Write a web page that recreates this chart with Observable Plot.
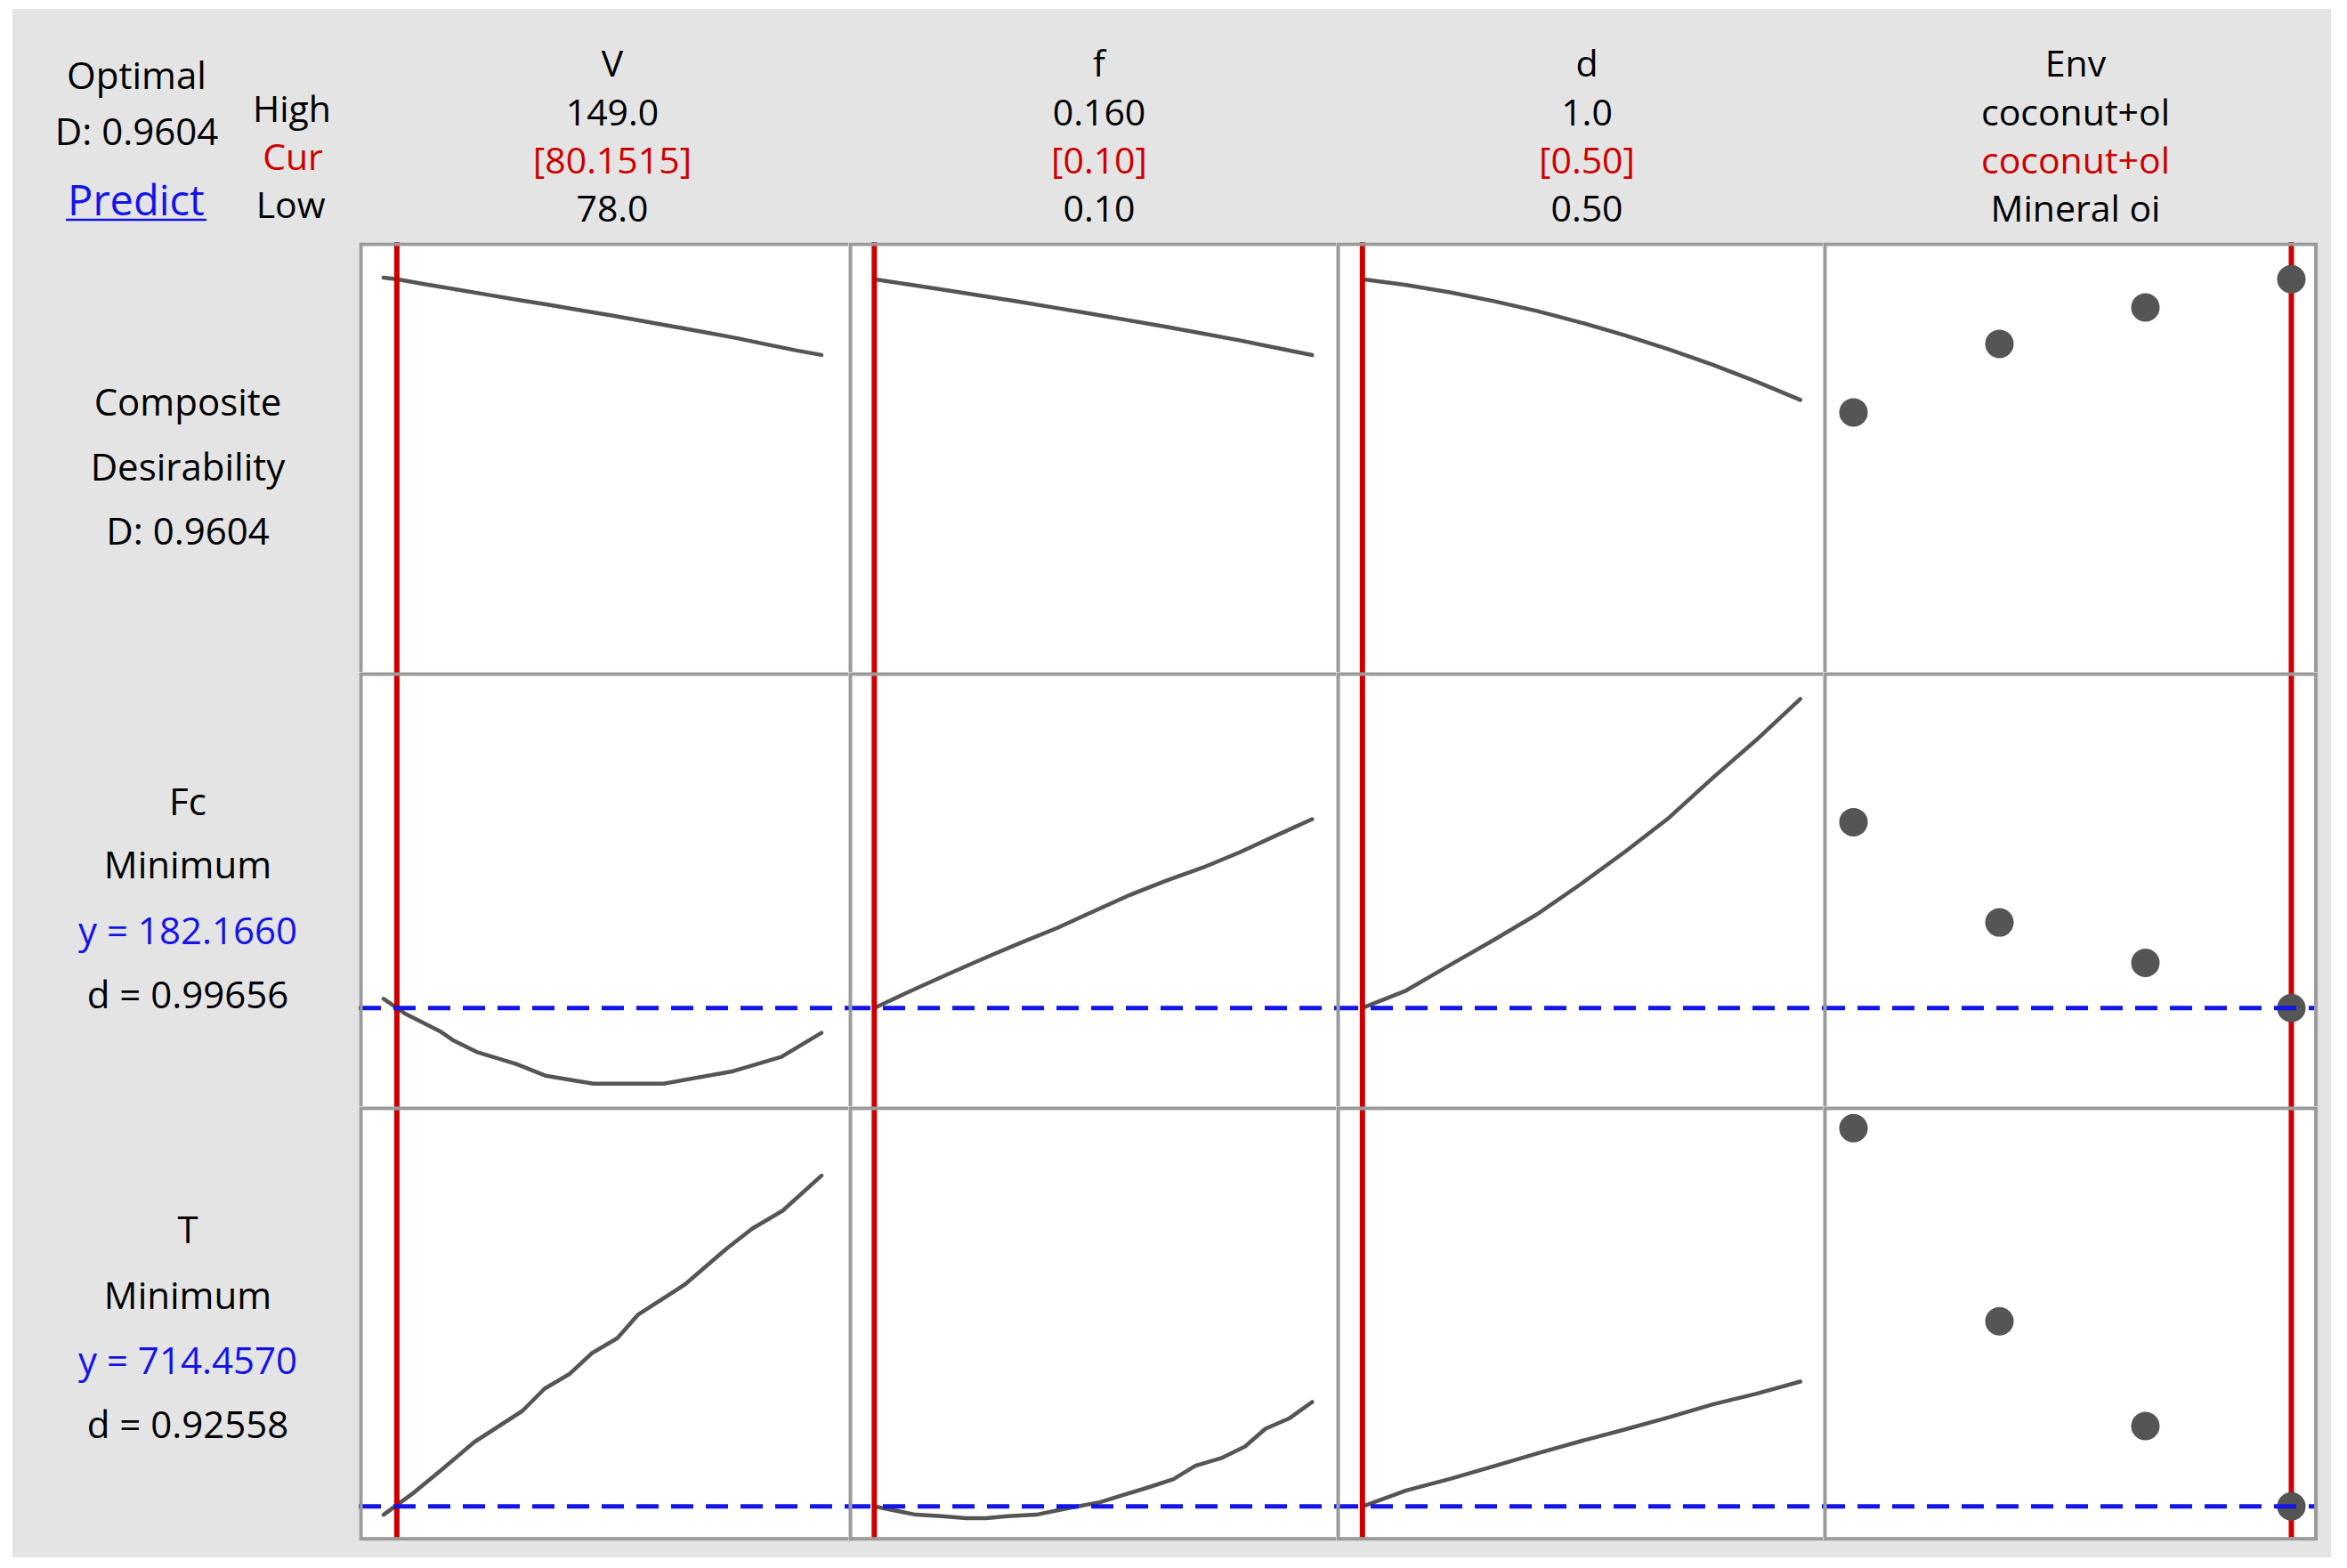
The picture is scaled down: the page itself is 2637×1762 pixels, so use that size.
<!DOCTYPE html>
<html>
<head>
<meta charset="utf-8">
<script src="https://cdn.jsdelivr.net/npm/d3@7"></script>
<script src="https://cdn.jsdelivr.net/npm/@observablehq/plot@0.6"></script>
<style>
  html, body { margin: 0; padding: 0; background: #ffffff; }
  #root { position: relative; width: 2637px; height: 1762px; overflow: hidden; }
  #bg { position: absolute; left: 14px; top: 10px; width: 2605px; height: 1740px; background: #e4e4e4; }
  .panel { position: absolute; }
</style>
</head>
<body>
<div id="root"><div id="bg"></div></div>
<script>
// ---------------- DATA ----------------
const factorNames = ["V", "f", "d", "Env"];
const highLabels  = ["149.0", "0.160", "1.0", "coconut+ol"];
const curLabels   = ["[80.1515]", "[0.10]", "[0.50]", "coconut+ol"];
const lowLabels   = ["78.0", "0.10", "0.50", "Mineral oi"];
const curSettings = [80.1515, 0.10, 0.50, "coconut+ol"];
const envLevels   = ["Mineral oi", "level 2", "level 3", "coconut+ol"];

const optimalD = "D: 0.9604";
const rowLabels = [
  ["Composite", "Desirability", "D: 0.9604"],
  ["Fc", "Minimum", "y = 182.1660", "d = 0.99656"],
  ["T", "Minimum", "y = 714.4570", "d = 0.92558"]
];
const optimumY = [null, 182.166, 714.457];

// Row 1: composite desirability
const V_D   = [78, 80.1515, 85, 90, 95, 100, 105, 110, 115, 120, 125, 130, 135, 140, 145, 149];
const D_V   = [0.9626, 0.9604, 0.9529, 0.9456, 0.9381, 0.9306, 0.9237, 0.9162, 0.9090, 0.9010, 0.8932, 0.8852, 0.8771, 0.8680, 0.8591, 0.8528];
const f_D   = [0.100, 0.105, 0.110, 0.115, 0.120, 0.125, 0.130, 0.135, 0.140, 0.145, 0.150, 0.155, 0.160];
const D_f   = [0.9604, 0.9525, 0.9446, 0.9364, 0.9281, 0.9195, 0.9108, 0.9018, 0.8927, 0.8833, 0.8737, 0.8631, 0.8526];
const d_D   = [0.50, 0.55, 0.60, 0.65, 0.70, 0.75, 0.80, 0.85, 0.90, 0.95, 1.00];
const D_d   = [0.9604, 0.9523, 0.9418, 0.9293, 0.9150, 0.8987, 0.8807, 0.8606, 0.8388, 0.8149, 0.7890];
const D_env = [0.7713, 0.8686, 0.9203, 0.9604];

// Row 2: Fc
const V_Fc  = [78, 81.4, 87.1, 89.2, 93.3, 99.5, 104.2, 112.0, 123.4, 134.7, 142.5, 149];
const Fc_V  = [187.3, 179.2, 169.2, 164.2, 157.2, 150.7, 144.2, 139.7, 139.7, 146.7, 154.7, 168.2];
const f_Fc  = [0.100, 0.105, 0.110, 0.115, 0.120, 0.125, 0.130, 0.135, 0.140, 0.145, 0.150, 0.155, 0.160];
const Fc_f  = [182.2, 191.8, 201.0, 210.0, 218.7, 227.0, 236.4, 245.6, 253.7, 261.0, 269.5, 278.9, 288.2];
const d_Fc  = [0.50, 0.55, 0.60, 0.65, 0.70, 0.75, 0.80, 0.85, 0.90, 0.95, 1.00];
const Fc_d  = [182.2, 192.0, 206.3, 220.4, 235.0, 252.0, 270.0, 289.0, 311.4, 332.8, 355.7];
const Fc_env = [286.5, 230.2, 207.5, 182.166];

// Row 3: T
const V_T   = [78, 82.95, 87.6, 92.7, 100.5, 104.1, 108.2, 111.8, 115.9, 119.3, 126.8, 133.5, 137.8, 142.7, 149];
const T_V   = [709.8, 722.3, 735.6, 750.6, 768.1, 780.6, 789.0, 800.6, 809.0, 822.3, 839.0, 859.0, 870.6, 880.6, 900.3];
const f_T   = [0.100, 0.1057, 0.1092, 0.1126, 0.1153, 0.1183, 0.1222, 0.1261, 0.1309, 0.1379, 0.1410, 0.1440, 0.1475, 0.1508, 0.1536, 0.1569, 0.160];
const T_f   = [714.5, 709.8, 709.0, 707.8, 707.8, 709.0, 709.8, 713.1, 716.8, 725.6, 729.8, 737.3, 741.5, 748.1, 758.1, 764.0, 773.1];
const d_T   = [0.50, 0.55, 0.60, 0.65, 0.70, 0.75, 0.80, 0.85, 0.90, 0.95, 1.00];
const T_d   = [714.46, 723.4, 729.9, 737.0, 744.3, 751.2, 757.7, 764.5, 771.8, 777.8, 784.6];
const T_env = [926.95, 818.45, 759.6, 714.457];

// y-domains of the three response rows (no axis shown)
const rowDomains = [[0.40, 1.01], [125.67, 369.67], [696.25, 938.1]];
const colDomains = [[78, 149], [0.10, 0.16], [0.5, 1.0], envLevels];

// series per [row][col]
const series = [
  [[V_D, D_V], [f_D, D_f], [d_D, D_d], [envLevels, D_env]],
  [[V_Fc, Fc_V], [f_Fc, Fc_f], [d_Fc, Fc_d], [envLevels, Fc_env]],
  [[V_T, T_V], [f_T, T_f], [d_T, T_d], [envLevels, T_env]]
];

// ---------------- LAYOUT ----------------
const xb = [404.5, 955.2, 1502.7, 2050.4, 2602];   // panel border centres
const yb = [274, 756.7, 1245, 1728.7];
const xAbs = [[430, 922], [982, 1474], [1530, 2022], [2082, 2575]];

const RED = "#cc0000", BLUE = "#1414e6", GRAY = "#555555", FRAME = "#9b9b9b";

const root = document.getElementById("root");

for (let r = 0; r < 3; r++) {
  for (let c = 0; c < 4; c++) {
    const left = xb[c] - 2, top = yb[r] - 2;
    const W = xb[c + 1] - xb[c] + 4, H = yb[r + 1] - yb[r] + 4;
    const [xs, ys] = series[r][c];
    const data = xs.map((x, i) => ({x, y: ys[i]}));
    const isEnv = c === 3;
    const marks = [];
    if (!isEnv) marks.push(Plot.line(data, {x: "x", y: "y", stroke: GRAY, strokeWidth: 4.5, strokeLinejoin: "round"}));
    marks.push(Plot.ruleX([curSettings[c]], {stroke: RED, strokeWidth: 6}));
    if (isEnv) marks.push(Plot.dot(data, {x: "x", y: "y", r: 16, fill: GRAY, stroke: "none"}));
    if (optimumY[r] !== null) marks.push(Plot.ruleY([optimumY[r]], {stroke: BLUE, strokeWidth: 5, strokeDasharray: "25,14"}));
    marks.push(Plot.frame({stroke: FRAME, strokeWidth: 4, inset: 2}));

    const xScale = isEnv
      ? {type: "point", domain: colDomains[c], range: [xAbs[c][0] - left, xAbs[c][1] - left], padding: 0, axis: null}
      : {type: "linear", domain: colDomains[c], range: [xAbs[c][0] - left, xAbs[c][1] - left], axis: null};
    const chart = Plot.plot({
      width: W, height: H,
      marginTop: 0, marginRight: 0, marginBottom: 0, marginLeft: 0,
      style: {background: "white", overflow: "visible"},
      x: xScale,
      y: {type: "linear", domain: rowDomains[r], range: [yb[r + 1] - top, yb[r] - top], axis: null},
      marks
    });
    const div = document.createElement("div");
    div.className = "panel";
    div.style.left = left + "px";
    div.style.top = top + "px";
    div.style.width = W + "px";
    div.style.height = H + "px";
    div.appendChild(chart);
    root.appendChild(div);
  }
}

// ---------------- TEXT ----------------
const svg = d3.select(root).append("svg")
  .attr("width", 2637).attr("height", 1762)
  .style("position", "absolute").style("left", "0px").style("top", "0px")
  .style("pointer-events", "none");

const FONT = "'Open Sans', 'Noto Sans', sans-serif";
function txt(s, x, y, color = "#000", size = 42) {
  return svg.append("text").attr("x", x).attr("y", y)
    .attr("text-anchor", "middle").attr("font-family", FONT).attr("font-size", size)
    .attr("fill", color).style("white-space", "pre").text(s);
}

txt("Optimal", 153.5, 100);
txt(optimalD, 153.5, 163);
txt("Predict", 153, 241.7, BLUE, 47);
svg.append("line").attr("x1", 74).attr("x2", 232).attr("y1", 247).attr("y2", 247)
  .attr("stroke", BLUE).attr("stroke-width", 2.5);
txt("High", 328, 136.7, "#000", 41);
txt("Cur", 329, 191, RED, 41);
txt("Low", 326.6, 245, "#000", 41);

const headX = [688, 1235, 1783, 2332];
for (let c = 0; c < 4; c++) {
  txt(factorNames[c], headX[c], 86, "#000", 41);
  txt(highLabels[c], headX[c], 140.5, "#000", 41);
  txt(curLabels[c], headX[c], 194.5, RED, 41);
  txt(lowLabels[c], headX[c], 249.3, "#000", 41);
}

const rowBase = [[467.3, 540, 611.7], [916.4, 987.1, 1061, 1133.4], [1397.4, 1471.4, 1543.7, 1616]];
for (let r = 0; r < 3; r++) {
  rowLabels[r].forEach((s, i) => {
    const color = (r > 0 && i === 2) ? BLUE : "#000";
    txt(s, 211, rowBase[r][i], color);
  });
}
</script>
</body>
</html>
